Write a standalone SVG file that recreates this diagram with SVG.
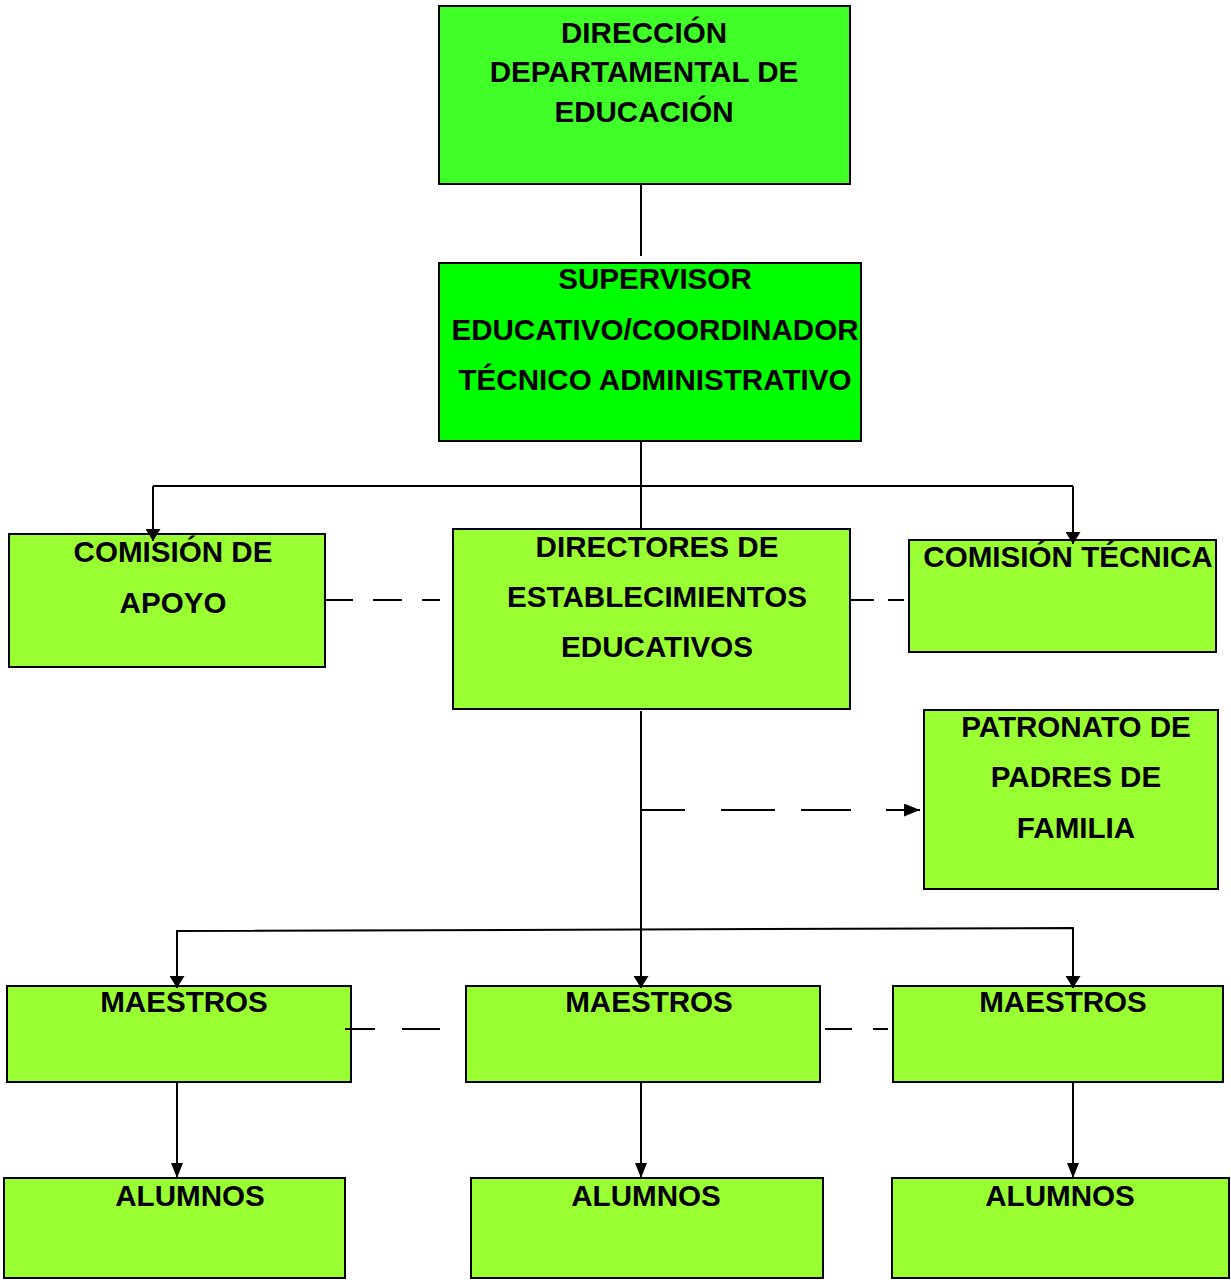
<svg xmlns="http://www.w3.org/2000/svg" width="1231" height="1280" viewBox="0 0 1231 1280">
<style>
.box{stroke:#000;stroke-width:2}
.g1{fill:#40FF28}
.g2{fill:#00FF00}
.g3{fill:#99FF33}
.t{font-family:"Liberation Sans",Arial,sans-serif;font-weight:bold;font-size:29.6px;fill:#000;text-anchor:middle}
.c{fill:none;stroke:#000;stroke-width:2}
</style>
<defs>
<marker id="aTop" markerUnits="userSpaceOnUse" markerWidth="12" markerHeight="15" refX="12" refY="7.5" orient="auto" viewBox="0 0 12 15"><path d="M0,0 L12,7.5 L0,15 z" fill="#000"/></marker>
<marker id="aBot" markerUnits="userSpaceOnUse" markerWidth="15" markerHeight="12" refX="15" refY="6" orient="auto" viewBox="0 0 15 12"><path d="M0,0 L15,6 L0,12 z" fill="#000"/></marker>
<marker id="aSide" markerUnits="userSpaceOnUse" markerWidth="16" markerHeight="13" refX="16" refY="6.5" orient="auto" viewBox="0 0 16 13"><path d="M0,0 L16,6.5 L0,13 z" fill="#000"/></marker>
</defs>
<rect width="1231" height="1280" fill="#fff"/>

<g id="direccion">
<rect class="box g1" x="439" y="6" width="411" height="178"/>
<text class="t" x="644" y="43">DIRECCIÓN</text>
<text class="t" x="644" y="82">DEPARTAMENTAL DE</text>
<text class="t" x="644" y="122">EDUCACIÓN</text>
</g>

<g id="supervisor">
<rect class="box g2" x="439" y="263" width="422" height="178"/>
<text class="t" x="655" y="289">SUPERVISOR</text>
<text class="t" x="655" y="340">EDUCATIVO/COORDINADOR</text>
<text class="t" x="655" y="390">TÉCNICO ADMINISTRATIVO</text>
</g>

<g id="comision-apoyo">
<rect class="box g3" x="9" y="534" width="316" height="133"/>
<text class="t" x="173" y="562">COMISIÓN DE</text>
<text class="t" x="173" y="613">APOYO</text>
</g>

<g id="directores">
<rect class="box g3" x="453" y="529" width="397" height="180"/>
<text class="t" x="657" y="557">DIRECTORES DE</text>
<text class="t" x="657" y="607">ESTABLECIMIENTOS</text>
<text class="t" x="657" y="657">EDUCATIVOS</text>
</g>

<g id="comision-tecnica">
<rect class="box g3" x="909" y="540" width="307" height="112"/>
<text class="t" x="1068" y="567">COMISIÓN TÉCNICA</text>
</g>

<g id="patronato">
<rect class="box g3" x="924" y="710" width="294" height="179"/>
<text class="t" x="1076" y="737">PATRONATO DE</text>
<text class="t" x="1076" y="787">PADRES DE</text>
<text class="t" x="1076" y="838">FAMILIA</text>
</g>

<g id="maestros-1">
<rect class="box g3" x="7" y="986" width="344" height="96"/>
<text class="t" x="184" y="1012">MAESTROS</text>
</g>
<g id="maestros-2">
<rect class="box g3" x="466" y="986" width="354" height="96"/>
<text class="t" x="649" y="1012">MAESTROS</text>
</g>
<g id="maestros-3">
<rect class="box g3" x="893" y="986" width="330" height="96"/>
<text class="t" x="1063" y="1012">MAESTROS</text>
</g>

<g id="alumnos-1">
<rect class="box g3" x="4" y="1178" width="341" height="100"/>
<text class="t" x="190" y="1206">ALUMNOS</text>
</g>
<g id="alumnos-2">
<rect class="box g3" x="471" y="1178" width="352" height="100"/>
<text class="t" x="646" y="1206">ALUMNOS</text>
</g>
<g id="alumnos-3">
<rect class="box g3" x="892" y="1178" width="337" height="100"/>
<text class="t" x="1060" y="1206">ALUMNOS</text>
</g>

<g id="connectors">
<path class="c" d="M641,185 L641,256"/>
<path class="c" d="M641,442 L641,528"/>
<path class="c" d="M153,486 L1073,486"/>
<path class="c" d="M153,486 L153,541" marker-end="url(#aTop)"/>
<path class="c" d="M1073,486 L1073,544" marker-end="url(#aTop)"/>
<path class="c" d="M326,600 L440,600" stroke-dasharray="27 20 29 20 18"/>
<path class="c" d="M851,600 L904,600" stroke-dasharray="23 14 16"/>
<path class="c" d="M641,711 L641,988" marker-end="url(#aTop)"/>
<path class="c" d="M641,810 L920,810" stroke-dasharray="44 36 54 26 50 35 34" marker-end="url(#aSide)"/>
<path class="c" d="M177,988 L177,931 L1073,928 L1073,988"/>
<path class="c" d="M177,960 L177,988" marker-end="url(#aTop)"/>
<path class="c" d="M1073,960 L1073,988" marker-end="url(#aTop)"/>
<path class="c" d="M345,1029 L440,1029" stroke-dasharray="30 27 38"/>
<path class="c" d="M825,1029 L888,1029" stroke-dasharray="27 21 15"/>
<path class="c" d="M177,1083 L177,1178" marker-end="url(#aBot)"/>
<path class="c" d="M641,1083 L641,1178" marker-end="url(#aBot)"/>
<path class="c" d="M1073,1083 L1073,1178" marker-end="url(#aBot)"/>
</g>
</svg>
